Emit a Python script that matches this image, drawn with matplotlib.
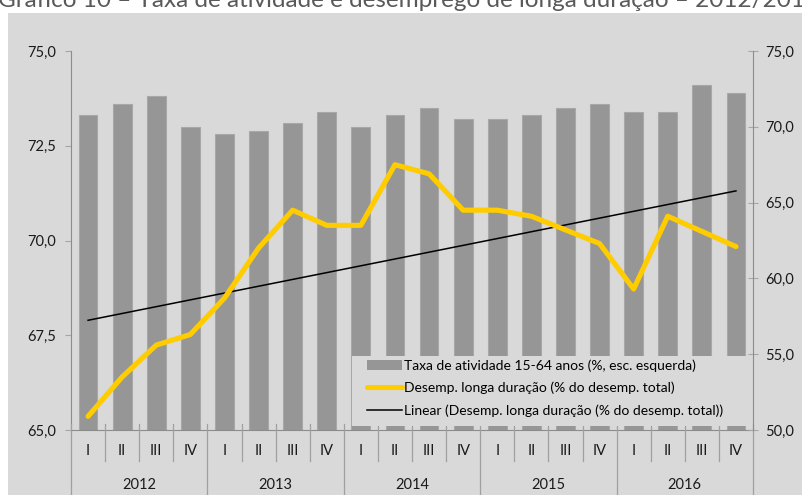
import numpy as np
import matplotlib.pyplot as plt
from matplotlib.patches import Rectangle, Patch
from matplotlib.lines import Line2D
from matplotlib.transforms import blended_transform_factory

plt.rcParams['font.family'] = ['Lato', 'DejaVu Sans']

# data
anos = ['2012', '2013', '2014', '2015', '2016']
trimestres = ['I', 'II', 'III', 'IV']
taxa_atividade = [73.3, 73.6, 73.8, 73.0, 72.8, 72.9, 73.1, 73.4, 73.0, 73.3,
                  73.5, 73.2, 73.2, 73.3, 73.5, 73.6, 73.4, 73.4, 74.1, 73.9]
desemp_longa = [50.9, 53.5, 55.6, 56.3, 58.7, 62.0, 64.5, 63.5, 63.5, 67.5,
                66.9, 64.5, 64.5, 64.1, 63.2, 62.3, 59.3, 64.1, 63.1, 62.1]
left_ticks = [65.0, 67.5, 70.0, 72.5, 75.0]
right_ticks = [50.0, 55.0, 60.0, 65.0, 70.0, 75.0]

bg = '#D9D9D9'
bar_col = '#969696'
yellow = '#FFCC00'
axis_col = '#8C8C8C'
sep_col = '#A0A0A0'

W, H = 802, 495
fig = plt.figure(figsize=(W / 100, H / 100), dpi=100)
fig.patches.append(Rectangle((8 / W, 0), 1, 1 - 13 / H, transform=fig.transFigure,
                             facecolor=bg, edgecolor='none', zorder=-1))
fig.text(-2 / W, 1 - 7 / H,
         'Gráfico 10 – Taxa de atividade e desemprego de longa duração – 2012/2016',
         fontsize=17.5, color='#595959', va='baseline', ha='left')

x0, x1, y0, y1 = 71, 753, 430, 51
ax1 = fig.add_axes([x0 / W, 1 - y0 / H, (x1 - x0) / W, (y0 - y1) / H])
ax1.set_facecolor(bg)
ax2 = ax1.twinx()
ax2.patch.set_visible(False)

x = np.arange(len(taxa_atividade))
ax1.bar(x, taxa_atividade, width=0.55, color=bar_col, edgecolor='#A8A8A8',
        linewidth=0.8, zorder=2)
ax1.set_xlim(-0.5, len(x) - 0.5)
ax1.set_ylim(65, 75)
ax1.set_yticks(left_ticks)
ax1.set_yticklabels([f'{v:.1f}'.replace('.', ',') for v in left_ticks])
ax1.set_xticks([])

ax2.set_ylim(50, 75)
ax2.set_yticks(right_ticks)
ax2.set_yticklabels([f'{v:.1f}'.replace('.', ',') for v in right_ticks])

# cover behind legend (legend area hides the bars in Excel)
ax2.add_patch(Rectangle((0.412, 0.0106), 0.585, 0.185, transform=ax2.transAxes,
                        facecolor=bg, edgecolor='none', zorder=1))

ax2.plot(x, desemp_longa, color=yellow, lw=3.7, solid_capstyle='round',
         solid_joinstyle='round', zorder=4)
coef = np.polyfit(x, desemp_longa, 1)
ax2.plot(x, np.polyval(coef, x), color='black', lw=1.1, zorder=3)

for a in (ax1, ax2):
    for s in a.spines.values():
        s.set_visible(False)
ax1.spines['left'].set_visible(True)
ax1.spines['left'].set_color(axis_col)
ax1.spines['bottom'].set_visible(True)
ax1.spines['bottom'].set_color(axis_col)
ax2.spines['right'].set_visible(True)
ax2.spines['right'].set_color(axis_col)

ax1.tick_params(axis='y', direction='out', length=4.3, color='#A6A6A6',
                labelsize=10.5, labelcolor='#1A1A1A', pad=6.5)
ax2.tick_params(axis='y', direction='inout', length=7.2, color='#A6A6A6',
                labelsize=10.5, labelcolor='#1A1A1A', pad=5)

# two-level category axis
ah = y0 - y1
trans = blended_transform_factory(ax1.transData, ax1.transAxes)
for k in range(len(x) + 1):
    bx = k - 0.5
    low = -(495 - y0) / ah if k % 4 == 0 else -(461 - y0) / ah
    ax1.plot([bx, bx], [6 / ah, low], color=sep_col, lw=0.9, transform=trans,
             clip_on=False, zorder=5)
for i in x:
    ax1.text(i, -(451 - y0) / ah, trimestres[i % 4], transform=trans,
             ha='center', va='center', fontsize=10.5, color='#1A1A1A')
for j, ano in enumerate(anos):
    ax1.text(4 * j + 1.5, -(485 - y0) / ah, ano, transform=trans,
             ha='center', va='center', fontsize=10.5, color='#1A1A1A')

handles = [Patch(facecolor=bar_col, edgecolor='none'),
           Line2D([], [], color=yellow, lw=3.7, solid_capstyle='round'),
           Line2D([], [], color='black', lw=1.1)]
labels = ['Taxa de atividade 15-64 anos (%, esc. esquerda)',
          'Desemp. longa duração (% do desemp. total)',
          'Linear (Desemp. longa duração (% do desemp. total))']
leg = ax2.legend(handles, labels, loc='upper left', frameon=False,
                 bbox_to_anchor=((367 - x0) / (x1 - x0), (y0 - 359) / ah),
                 borderpad=0, borderaxespad=0, fontsize=10, handlelength=2.5,
                 handletextpad=0.15, labelspacing=0.72)
leg.set_zorder(6)

fig.savefig('out.png', dpi=100)
